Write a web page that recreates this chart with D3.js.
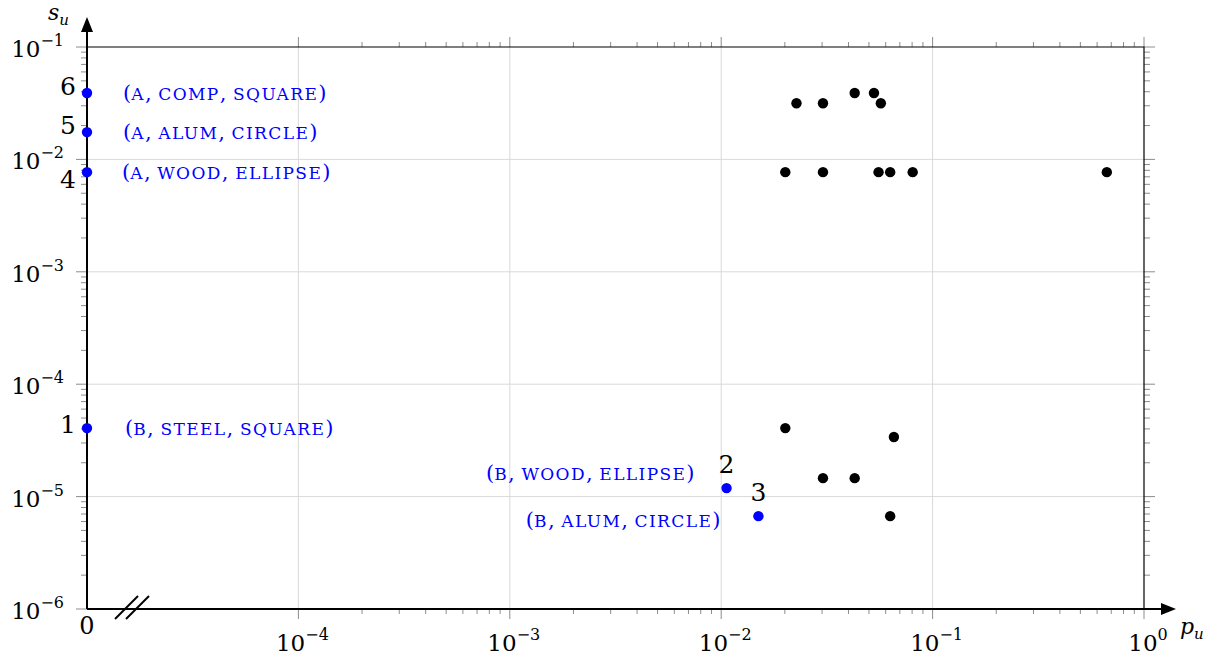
<!DOCTYPE html>
<html>
<head>
<meta charset="UTF-8">
<title>s_u vs p_u</title>
<style>
  body { margin: 0; background: white; }
  svg { display: block; }
  text { font-family: "DejaVu Serif", "Liberation Serif", serif; }
  .lbl { fill: #0000ff; font-size: 21px; }
</style>
</head>
<body>
<svg width="1216" height="658"></svg>
<script src="https://d3js.org/d3.v7.min.js"></script>
<script>

// ---- data ----
// labelled blue points (pu = 0 is drawn on the broken left axis)
const blueIds    = [6, 5, 4, 1, 2, 3];
const bluePu     = [0, 0, 0, 0, 0.0106, 0.015];
const blueSu     = [0.039, 0.0175, 0.0077, 4.07e-5, 1.19e-5, 6.7e-6];
const blueLabels = ["(a, comp, square)", "(a, alum, circle)", "(a, wood, ellipse)",
                    "(b, steel, square)", "(b, wood, ellipse)", "(b, alum, circle)"];

// black points
const blackPu = [0.0227, 0.0303, 0.0428, 0.0528, 0.0569,
                 0.0201, 0.0303, 0.0555, 0.063, 0.0805, 0.667,
                 0.0201, 0.0656, 0.0303, 0.0428, 0.063];
const blackSu = [0.0316, 0.0316, 0.039, 0.039, 0.0316,
                 0.0077, 0.0077, 0.0077, 0.0077, 0.0077, 0.0077,
                 4.07e-5, 3.39e-5, 1.46e-5, 1.46e-5, 6.7e-6];

const xTickExp = [-4, -3, -2, -1, 0];
const yTickExp = [-6, -5, -4, -3, -2, -1];

// ---- layout ----
const svg = d3.select("svg");
const mLeft = 87, mRight = 1144, mTop = 47, mBottom = 609;

const x = d3.scaleLog().domain([1e-5, 1]).range([mLeft, mRight]);
const y = d3.scaleLog().domain([1e-6, 1e-1]).range([mBottom, mTop]);
const px = v => v === 0 ? x(1e-5) : x(v);   // p_u = 0 sits on the axis

// grid
const grid = svg.append("g").attr("stroke", "#d9d9d9").attr("stroke-width", 1);
grid.selectAll(".gx").data(xTickExp.filter(e => e < 0)).enter().append("line")
  .attr("x1", e => x(Math.pow(10, e))).attr("x2", e => x(Math.pow(10, e)))
  .attr("y1", mTop).attr("y2", mBottom);
grid.selectAll(".gy").data(yTickExp.filter(e => e > -6 && e < -1)).enter().append("line")
  .attr("y1", e => y(Math.pow(10, e))).attr("y2", e => y(Math.pow(10, e)))
  .attr("x1", mLeft).attr("x2", mRight);

// minor/major ticks (outside the box, grey)
const minorX = [];
for (let e = -4; e < 0; e++) for (let m = 2; m <= 9; m++) minorX.push(m * Math.pow(10, e));
const minorY = [];
for (let e = -6; e < -1; e++) for (let m = 2; m <= 9; m++) minorY.push(m * Math.pow(10, e));

const ticks = svg.append("g").attr("stroke", "#8c8c8c").attr("stroke-width", 1);
// bottom
ticks.selectAll(".tb").data(minorX).enter().append("line")
  .attr("x1", d => x(d)).attr("x2", d => x(d)).attr("y1", mBottom).attr("y2", mBottom + 5);
ticks.selectAll(".tbm").data(xTickExp).enter().append("line")
  .attr("x1", e => x(Math.pow(10, e))).attr("x2", e => x(Math.pow(10, e)))
  .attr("y1", mBottom).attr("y2", mBottom + 10);
// top
ticks.selectAll(".tt").data(minorX).enter().append("line")
  .attr("x1", d => x(d)).attr("x2", d => x(d)).attr("y1", mTop).attr("y2", mTop - 5);
ticks.selectAll(".ttm").data(xTickExp).enter().append("line")
  .attr("x1", e => x(Math.pow(10, e))).attr("x2", e => x(Math.pow(10, e)))
  .attr("y1", mTop).attr("y2", mTop - 10);
// left
ticks.selectAll(".tl").data(minorY).enter().append("line")
  .attr("y1", d => y(d)).attr("y2", d => y(d)).attr("x1", mLeft).attr("x2", mLeft - 6);
ticks.selectAll(".tlm").data(yTickExp).enter().append("line")
  .attr("y1", e => y(Math.pow(10, e))).attr("y2", e => y(Math.pow(10, e)))
  .attr("x1", mLeft).attr("x2", mLeft - 11);
// right
ticks.selectAll(".tr").data(minorY).enter().append("line")
  .attr("y1", d => y(d)).attr("y2", d => y(d)).attr("x1", mRight).attr("x2", mRight + 6);
ticks.selectAll(".trm").data(yTickExp).enter().append("line")
  .attr("y1", e => y(Math.pow(10, e))).attr("y2", e => y(Math.pow(10, e)))
  .attr("x1", mRight).attr("x2", mRight + 11);

// box (top and right)
svg.append("path")
  .attr("d", `M${mLeft},${mTop}H${mRight}V${mBottom}`)
  .attr("fill", "none").attr("stroke", "black").attr("stroke-width", 1.2);

// main axes with arrows
svg.append("line").attr("x1", mLeft).attr("x2", mLeft).attr("y1", mBottom).attr("y2", 28)
  .attr("stroke", "black").attr("stroke-width", 2);
svg.append("path").attr("d", `M${mLeft},17L${mLeft - 6},32L${mLeft + 6},32Z`).attr("fill", "black");
svg.append("line").attr("x1", mLeft).attr("x2", 1162).attr("y1", mBottom).attr("y2", mBottom)
  .attr("stroke", "black").attr("stroke-width", 2);
svg.append("path").attr("d", `M1176,${mBottom}L1161,${mBottom - 6}L1161,${mBottom + 6}Z`).attr("fill", "black");

// axis break marks
const brk = svg.append("g").attr("stroke", "black").attr("stroke-width", 2);
brk.append("line").attr("x1", 115).attr("y1", 619).attr("x2", 138).attr("y2", 596);
brk.append("line").attr("x1", 126).attr("y1", 619).attr("x2", 149).attr("y2", 596);

// tick labels
function powLabel(g, e, xPos, yPos, anchor) {
  const t = g.append("text").attr("x", xPos).attr("y", yPos)
    .attr("text-anchor", anchor).attr("font-size", 23).attr("fill", "black");
  t.append("tspan").text("10");
  t.append("tspan").attr("dy", -11).attr("font-size", 16).text(e === 0 ? "0" : "\u2212" + Math.abs(e));
}
const lab = svg.append("g");
xTickExp.forEach(e => powLabel(lab, e, x(Math.pow(10, e)) + 4, 651, "middle"));
yTickExp.forEach(e => powLabel(lab, e, 64, y(Math.pow(10, e)) + 10, "end"));
lab.append("text").attr("x", mLeft).attr("y", 634).attr("text-anchor", "middle")
  .attr("font-size", 24).text("0");

// axis titles
const st = svg.append("text").attr("x", 48).attr("y", 20).attr("font-size", 22).attr("font-style", "italic");
st.append("tspan").text("s");
st.append("tspan").attr("dy", 5).attr("font-size", 15).text("u");
const pt = svg.append("text").attr("x", 1180).attr("y", 634).attr("font-size", 22).attr("font-style", "italic");
pt.append("tspan").text("p");
pt.append("tspan").attr("dy", 5).attr("font-size", 15).text("u");

// black points
svg.append("g").selectAll("circle").data(blackPu).enter().append("circle")
  .attr("cx", (d, i) => px(d)).attr("cy", (d, i) => y(blackSu[i]))
  .attr("r", 5.2).attr("fill", "black");

// blue points
const blue = blueIds.map((id, i) => ({ id, pu: bluePu[i], su: blueSu[i], label: blueLabels[i] }));
svg.append("g").selectAll("circle").data(blue).enter().append("circle")
  .attr("cx", d => px(d.pu)).attr("cy", d => y(d.su))
  .attr("r", 5.2).attr("fill", "#0000ff");

// hand-made small caps: letters upper-cased at a smaller size, punctuation full size
function smallCaps(t, s) {
  const runs = s.match(/[a-z]+|[^a-z]+/g);
  runs.forEach(r => {
    if (/[a-z]/.test(r)) t.append("tspan").attr("font-size", 17).attr("letter-spacing", 1.4).text(r.toUpperCase());
    else t.append("tspan").attr("font-size", 21).text(r);
  });
}

// placement of the number and the text for each labelled point
const place = {
  6: { nx: -19, ny: 2,  tx: 36, ty: 7,  anchor: "start" },
  5: { nx: -19, ny: 2,  tx: 36, ty: 7,  anchor: "start" },
  4: { nx: -19, ny: 16, tx: 35, ty: 7,  anchor: "start" },
  1: { nx: -19, ny: 5,  tx: 38, ty: 7,  anchor: "start" },
  2: { nx: 0,   ny: -15, tx: -32, ty: -8, anchor: "end" },
  3: { nx: 0,   ny: -15, tx: -38, ty: 11, anchor: "end" }
};
const nums = svg.append("g");
blue.forEach(d => {
  const p = place[d.id];
  nums.append("text").attr("x", px(d.pu) + p.nx).attr("y", y(d.su) + p.ny)
    .attr("text-anchor", "middle").attr("font-size", 25).text(d.id);
  const t = nums.append("text").attr("class", "lbl").attr("x", px(d.pu) + p.tx).attr("y", y(d.su) + p.ty)
    .attr("text-anchor", p.anchor);
  smallCaps(t, d.label);
});
</script>
</body>
</html>
